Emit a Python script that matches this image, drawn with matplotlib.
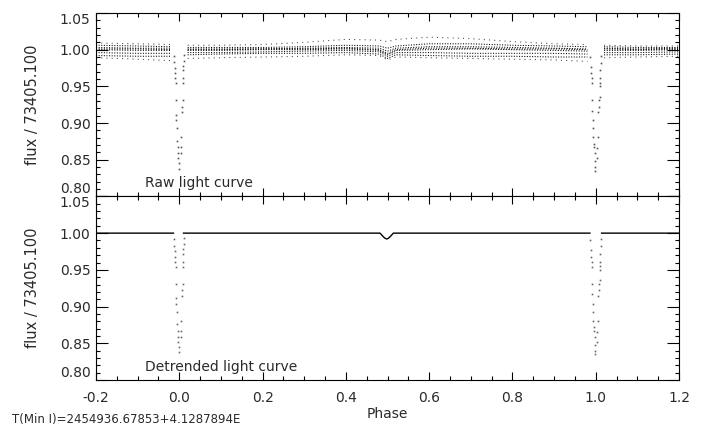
import matplotlib
matplotlib.use("Agg")
import matplotlib.pyplot as plt
import numpy as np
from matplotlib.ticker import MultipleLocator

plt.rcParams['font.family'] = ['DejaVu Sans']

# phase grid for the raw light-curve tracks (gaps at the primary eclipses)
raw_phase = [-0.2, -0.1, -0.02, 0.02, 0.1, 0.2, 0.3, 0.4, 0.48, 0.5, 0.52,
             0.6, 0.7, 0.8, 0.9, 0.98, 1.02, 1.1, 1.2]

# raw flux tracks (dense bands)
trk_b = [1.006, 1.005, 1.004, 1.003, 1.003, 1.003, 1.004, 1.006, 1.005, 1.002, 1.005,
         1.008, 1.008, 1.006, 1.005, 1.004, 1.004, 1.003, 1.003]
trk_c = [1.003, 1.002, 1.002, 1.001, 1.001, 1.001, 1.002, 1.003, 1.002, 0.998, 1.002,
         1.004, 1.004, 1.003, 1.002, 1.001, 1.002, 1.001, 1.002]
trk_h = [1.001, 1.001, 1.000, 1.000, 1.000, 1.001, 1.001, 1.002, 1.000, 0.995, 1.000,
         1.002, 1.002, 1.001, 1.001, 1.000, 1.001, 1.000, 1.001]
trk_d = [1.000, 0.999, 0.999, 0.999, 0.999, 1.000, 1.000, 1.001, 0.999, 0.993, 0.999,
         1.000, 1.001, 1.000, 0.999, 0.998, 0.999, 0.999, 1.000]
trk_e = [0.996, 0.995, 0.995, 0.996, 0.996, 0.997, 0.998, 0.999, 0.997, 0.991, 0.996,
         0.996, 0.995, 0.995, 0.995, 0.994, 0.996, 0.996, 0.997]
trk_f = [0.992, 0.991, 0.991, 0.993, 0.994, 0.995, 0.995, 0.996, 0.994, 0.988, 0.993,
         0.992, 0.991, 0.991, 0.990, 0.990, 0.993, 0.993, 0.994]
# sparse tracks (upper hump and lower scatter)
trk_a = [1.009, 1.008, 1.007, 1.006, 1.006, 1.007, 1.010, 1.014, 1.013, 1.011, 1.014,
         1.017, 1.015, 1.011, 1.008, 1.007, 1.006, 1.005, 1.005]
trk_g = [0.989, 0.987, 0.985, 0.988, 0.989, 0.990, 0.991, 0.993, 0.992, 0.986, 0.990,
         0.989, 0.988, 0.987, 0.986, 0.984, 0.989, 0.990, 0.991]

dense_tracks = [trk_b, trk_c, trk_h, trk_d, trk_e, trk_f]
sparse_tracks = [trk_a, trk_g]

# detrended curve (nan = eclipse gap)
det_phase = [-0.2, -0.014, np.nan, 0.010, 0.482, 0.490, 0.494, 0.498, 0.502, 0.506,
             0.514, 0.986, np.nan, 1.014, 1.2]
det_flux = [1.0, 1.0, np.nan, 1.0, 1.0, 0.995, 0.993, 0.992, 0.993, 0.995,
            1.0, 1.0, np.nan, 1.0, 1.0]

# primary eclipse points near phase 0
ecl0_phase = [-0.013, -0.012, -0.011, -0.010, -0.010, -0.009, -0.008, -0.007, -0.007,
              -0.006, -0.005, -0.004, -0.003, -0.002, -0.001, 0.000,
              0.012, 0.011, 0.010, 0.010, 0.009, 0.009, 0.008, 0.007, 0.006,
              0.005, 0.004, 0.003]
ecl0_flux = [0.992, 0.983, 0.975, 0.968, 0.961, 0.954, 0.931, 0.911, 0.904,
             0.893, 0.876, 0.867, 0.859, 0.852, 0.845, 0.838,
             0.993, 0.985, 0.978, 0.972, 0.961, 0.954, 0.931, 0.922, 0.915,
             0.881, 0.867, 0.859]
# primary eclipse points near phase 1
ecl1_phase = [0.987, 0.988, 0.989, 0.990, 0.990, 0.991, 0.992, 0.993, 0.993,
              0.994, 0.995, 0.996, 0.997, 0.998, 0.999, 0.999,
              1.013, 1.012, 1.011, 1.010, 1.010, 1.009, 1.009, 1.008, 1.007,
              1.006, 1.005, 1.004, 1.003]
ecl1_flux = [0.990, 0.977, 0.968, 0.961, 0.954, 0.931, 0.917, 0.904, 0.893,
             0.881, 0.872, 0.867, 0.859, 0.848, 0.840, 0.835,
             0.992, 0.982, 0.972, 0.961, 0.955, 0.950, 0.936, 0.931, 0.922,
             0.915, 0.881, 0.866, 0.852]

y_ticks = [0.80, 0.85, 0.90, 0.95, 1.00, 1.05]
x_ticks = [-0.2, 0.0, 0.2, 0.4, 0.6, 0.8, 1.0, 1.2]

txt_col = '#2a2a2a'


def style_axes(ax, show_x):
  ax.set_xlim(-0.2, 1.2)
  ax.set_ylim(0.80, 1.05)
  ax.set_xticks(x_ticks)
  ax.set_yticks(y_ticks)
  ax.xaxis.set_minor_locator(MultipleLocator(0.05))
  ax.yaxis.set_minor_locator(MultipleLocator(0.01))
  ax.tick_params(which='both', direction='in', top=True, right=True,
                 colors='black', labelcolor=txt_col, labelsize=10, width=0.8)
  ax.tick_params(axis='y', which='major', length=8.5, pad=4)
  ax.tick_params(axis='y', which='minor', length=3)
  ax.tick_params(axis='x', which='major', length=6, pad=8)
  ax.tick_params(axis='x', which='minor', length=3)
  ax.set_yticklabels(['%.2f' % v for v in y_ticks])
  labs = ax.get_yticklabels()
  labs[0].set_va('bottom')
  labs[-1].set_va('top')
  if show_x:
    ax.set_xticklabels(['%.1f' % v for v in x_ticks])
  else:
    ax.set_xticklabels([])
  for s in ax.spines.values():
    s.set_linewidth(0.8)
  ax.set_ylabel('flux / 73405.100', color=txt_col, fontsize=10.5)
  ax.yaxis.set_label_coords(-0.096, 0.5)


def plot_track(ax, flux, ls, color):
  ph = np.array(raw_phase)
  fl = np.array(flux)
  for m in (ph < 0, (ph > 0) & (ph < 1), ph > 1):
    ax.plot(ph[m], fl[m], ls=ls, lw=0.75, color=color)


fig = plt.figure(figsize=(7.02, 4.28), dpi=100)
ax_raw = fig.add_axes([0.1368, 0.5411, 0.8305, 0.4286])
ax_det = fig.add_axes([0.1368, 0.1121, 0.8305, 0.4290])

# Raw panel
for t in dense_tracks:
  plot_track(ax_raw, t, (0, (1, 1.5)), 'black')
for t in sparse_tracks:
  plot_track(ax_raw, t, (0, (1, 4)), '#444444')
ax_raw.plot(ecl0_phase, ecl0_flux, ls='none', marker='s', ms=1.2, mew=0, color='#555555')
ax_raw.plot(ecl1_phase, ecl1_flux, ls='none', marker='s', ms=1.2, mew=0, color='#555555')
ax_raw.text(0.084, 0.075, 'Raw light curve', transform=ax_raw.transAxes,
            ha='left', va='center', fontsize=10, color=txt_col)
style_axes(ax_raw, False)

# Detrended panel
ax_det.plot(det_phase, det_flux, lw=1.0, color='black')
ax_det.plot(ecl0_phase, ecl0_flux, ls='none', marker='s', ms=1.2, mew=0, color='#666666')
ax_det.plot(ecl1_phase, ecl1_flux, ls='none', marker='s', ms=1.2, mew=0, color='#666666')
ax_det.text(0.084, 0.071, 'Detrended light curve', transform=ax_det.transAxes,
            ha='left', va='center', fontsize=10, color=txt_col)
style_axes(ax_det, True)

fig.text(387 / 702, 1 - 414 / 428, 'Phase', ha='center', va='center',
         fontsize=10, color=txt_col)
fig.text(12 / 702, 1 - 419 / 428, 'T(Min I)=2454936.67853+4.1287894E',
         ha='left', va='center', fontsize=8.5, color=txt_col)

fig.savefig('out.png', dpi=100)
